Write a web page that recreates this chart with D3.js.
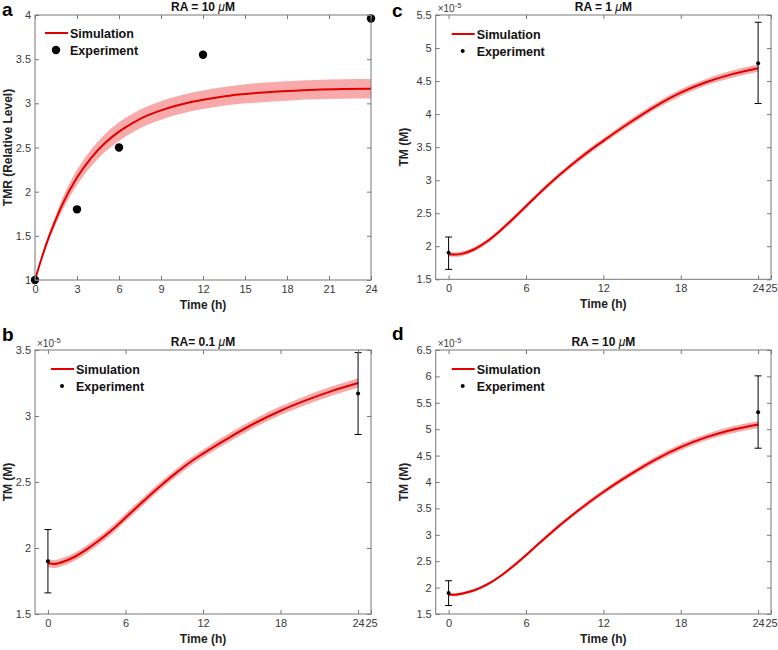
<!DOCTYPE html>
<html>
<head>
<meta charset="utf-8">
<script src="https://cdn.jsdelivr.net/npm/d3@7"></script>
<style>
  body { margin: 0; background: #fff; }
  svg { font-family: "Liberation Sans", Arial, Helvetica, sans-serif; }
</style>
</head>
<body>
<svg id="chart" width="778" height="650"></svg>
<script>
// ---------- Data ----------
// Panel a: TMR relative level, RA = 10 uM
const timeA = [0, 0.5, 1, 1.5, 2, 3, 4, 5, 6, 7, 8, 9, 10, 11, 12, 14, 16, 18, 20, 22, 24];
const simA  = [1, 1.26, 1.49, 1.69, 1.87, 2.16, 2.38, 2.55, 2.68, 2.78, 2.86, 2.92, 2.97, 3.01, 3.04, 3.09, 3.12, 3.14, 3.155, 3.162, 3.165];
const bandA = [0, 0.02, 0.04, 0.055, 0.07, 0.085, 0.095, 0.1, 0.105, 0.105, 0.105, 0.105, 0.105, 0.105, 0.105, 0.105, 0.11, 0.11, 0.11, 0.11, 0.11];
const expTimeA = [0, 3, 6, 12, 24];
const expA     = [1, 1.8, 2.5, 3.55, 3.96];
const xTicksA = [0, 3, 6, 9, 12, 15, 18, 21, 24];
const yTicksA = [1, 1.5, 2, 2.5, 3, 3.5, 4];

// Panels b, c, d: TM (M), values in units of 1e-5
const timeTM = [0, 0.5, 1, 2, 3, 4, 5, 6, 7, 8, 9, 10, 11, 12, 14, 16, 18, 20, 22, 24];
const simB  = [1.884, 1.878, 1.89, 1.93, 1.99, 2.06, 2.14, 2.23, 2.32, 2.41, 2.495, 2.575, 2.65, 2.715, 2.835, 2.945, 3.04, 3.12, 3.19, 3.25];
const bandB = [0.03, 0.03, 0.03, 0.03, 0.03, 0.03, 0.03, 0.03, 0.03, 0.03, 0.03, 0.03, 0.03, 0.03, 0.032, 0.032, 0.033, 0.034, 0.035, 0.036];
const simC  = [1.88, 1.875, 1.885, 1.955, 2.075, 2.235, 2.415, 2.605, 2.795, 2.975, 3.145, 3.305, 3.455, 3.595, 3.865, 4.115, 4.325, 4.485, 4.605, 4.695];
const bandC = [0.035, 0.035, 0.035, 0.035, 0.035, 0.035, 0.035, 0.035, 0.035, 0.035, 0.035, 0.04, 0.04, 0.04, 0.045, 0.045, 0.05, 0.05, 0.055, 0.055];
const simD  = [1.87, 1.865, 1.885, 1.95, 2.06, 2.215, 2.405, 2.615, 2.835, 3.05, 3.255, 3.45, 3.635, 3.81, 4.13, 4.42, 4.66, 4.85, 4.99, 5.09];
const bandD = [0.03, 0.03, 0.03, 0.03, 0.03, 0.03, 0.035, 0.035, 0.035, 0.04, 0.04, 0.04, 0.045, 0.045, 0.05, 0.055, 0.06, 0.06, 0.065, 0.065];
const expTimeTM = [0, 24];
const expB = [1.9, 3.17];  const errLoB = [1.66, 2.86]; const errHiB = [2.14, 3.48];
const expC = [1.9, 4.77];  const errLoC = [1.65, 4.16]; const errHiC = [2.14, 5.39];
const expD = [1.9, 5.32];  const errLoD = [1.66, 4.64]; const errHiD = [2.13, 6.01];
const xTicksTM = [0, 6, 12, 18, 24, 25];
const yTicksB = [1.5, 2, 2.5, 3, 3.5];
const yTicksC = [1.5, 2, 2.5, 3, 3.5, 4, 4.5, 5, 5.5];
const yTicksD = [1.5, 2, 2.5, 3, 3.5, 4, 4.5, 5, 5.5, 6, 6.5];

const titles = ["RA = 10 ", "RA= 0.1 ", "RA = 1 ", "RA = 10 "];
const letters = ["a", "b", "c", "d"];

// ---------- Layout ----------
const panels = [
  { letter: letters[0], title: titles[0], box: [35, 15, 371, 280], xDom: [0, 24], yDom: [1, 4],
    xTicks: xTicksA, yTicks: yTicksA, t: timeA, sim: simA, band: bandA,
    et: expTimeA, ev: expA, big: true, ylabel: "TMR (Relative Level)", exp: false,
    letterPos: [2, 16], ylabX: 12 },
  { letter: letters[1], title: titles[1], box: [35, 350, 371, 614], xDom: [-1, 25], yDom: [1.5, 3.5],
    xTicks: xTicksTM, yTicks: yTicksB, t: timeTM, sim: simB, band: bandB,
    et: expTimeTM, ev: expB, lo: errLoB, hi: errHiB, big: false, ylabel: "TM (M)", exp: true,
    letterPos: [2, 341], ylabX: 12 },
  { letter: letters[2], title: titles[2], box: [435.7, 15, 771, 279.3], xDom: [-1, 25], yDom: [1.5, 5.5],
    xTicks: xTicksTM, yTicks: yTicksC, t: timeTM, sim: simC, band: bandC,
    et: expTimeTM, ev: expC, lo: errLoC, hi: errHiC, big: false, ylabel: "TM (M)", exp: true,
    letterPos: [392, 17], ylabX: 408 },
  { letter: letters[3], title: titles[3], box: [435.7, 350, 771, 614], xDom: [-1, 25], yDom: [1.5, 6.5],
    xTicks: xTicksTM, yTicks: yTicksD, t: timeTM, sim: simD, band: bandD,
    et: expTimeTM, ev: expD, lo: errLoD, hi: errHiD, big: false, ylabel: "TM (M)", exp: true,
    letterPos: [392, 340], ylabX: 408 }
];

const svg = d3.select("#chart");
const axisColor = "#777";
const textColor = "#3a3a3a";

panels.forEach(p => {
  const [x0, y0, x1, y1] = p.box;
  const x = d3.scaleLinear().domain(p.xDom).range([x0, x1]);
  const y = d3.scaleLinear().domain(p.yDom).range([y1, y0]);
  const g = svg.append("g");

  // band
  const pts = p.t.map((t, i) => ({ t, v: p.sim[i], b: p.band[i] }));
  g.append("path").datum(pts)
    .attr("fill", "#f8a9a9")
    .attr("d", d3.area().x(d => x(d.t)).y0(d => y(d.v - d.b)).y1(d => y(d.v + d.b)).curve(d3.curveMonotoneX));
  // line
  g.append("path").datum(pts)
    .attr("fill", "none").attr("stroke", "#e00000").attr("stroke-width", 2)
    .attr("d", d3.line().x(d => x(d.t)).y(d => y(d.v)).curve(d3.curveMonotoneX));

  // error bars
  if (p.lo) {
    p.et.forEach((t, i) => {
      const cx = x(t);
      g.append("line").attr("x1", cx).attr("x2", cx).attr("y1", y(p.lo[i])).attr("y2", y(p.hi[i]))
        .attr("stroke", "#000").attr("stroke-width", 1);
      [p.lo[i], p.hi[i]].forEach(v => {
        g.append("line").attr("x1", cx - 3.5).attr("x2", cx + 3.5).attr("y1", y(v)).attr("y2", y(v))
          .attr("stroke", "#000").attr("stroke-width", 1);
      });
    });
  }
  // experiment points
  g.selectAll("circle.exp").data(p.et.map((t, i) => ({ t, v: p.ev[i] }))).enter()
    .append("circle").attr("cx", d => x(d.t)).attr("cy", d => y(d.v))
    .attr("r", p.big ? 4.2 : 2).attr("fill", "#000");

  // axes (MATLAB style box with inward ticks)
  const tl = 4;
  const fmt = d => String(d);
  const xa = g.append("g").attr("transform", `translate(0,${y1})`)
    .call(d3.axisBottom(x).tickValues(p.xTicks).tickFormat(fmt).tickSizeInner(-tl).tickSizeOuter(0).tickPadding(5));
  const ya = g.append("g").attr("transform", `translate(${x0},0)`)
    .call(d3.axisLeft(y).tickValues(p.yTicks).tickFormat(fmt).tickSizeInner(-tl).tickSizeOuter(0).tickPadding(4));
  const xt = g.append("g").attr("transform", `translate(0,${y0})`)
    .call(d3.axisTop(x).tickValues(p.xTicks).tickFormat("").tickSizeInner(-tl).tickSizeOuter(0));
  const yr = g.append("g").attr("transform", `translate(${x1},0)`)
    .call(d3.axisRight(y).tickValues(p.yTicks).tickFormat("").tickSizeInner(-tl).tickSizeOuter(0));
  [xa, ya, xt, yr].forEach(a => {
    a.select(".domain").remove();
    a.selectAll(".tick line").attr("stroke", axisColor);
    a.selectAll(".tick text").attr("fill", textColor).style("font-size", "11px")
      .style("font-family", '"Liberation Sans", Arial, sans-serif');
  });
  g.append("rect").attr("x", x0).attr("y", y0).attr("width", x1 - x0).attr("height", y1 - y0)
    .attr("fill", "none").attr("stroke", axisColor).attr("stroke-width", 1);

  // exponent label
  if (p.exp) {
    const e = g.append("text").attr("x", x0 + 2).attr("y", y0 - 3)
      .attr("fill", textColor).style("font-size", "10px");
    e.append("tspan").text("\u00d710");
    e.append("tspan").attr("dy", -4).style("font-size", "7.5px").text("-5");
  }

  // title
  const cxm = (x0 + x1) / 2;
  const tt = g.append("text").attr("x", cxm).attr("y", y0 - 4).attr("text-anchor", "middle")
    .style("font-size", "12px").style("font-weight", "bold").attr("fill", "#111");
  tt.append("tspan").text(p.title);
  tt.append("tspan").style("font-style", "italic").style("font-weight", "normal").text("\u03bc");
  tt.append("tspan").text("M");

  // x label
  g.append("text").attr("x", cxm).attr("y", y1 + 29).attr("text-anchor", "middle")
    .style("font-size", "12px").style("font-weight", "bold").attr("fill", "#222").text("Time (h)");
  // y label
  g.append("text").attr("transform", `translate(${p.ylabX},${(y0 + y1) / 2}) rotate(-90)`)
    .attr("text-anchor", "middle").style("font-size", "12px").style("font-weight", "bold")
    .attr("fill", "#222").text(p.ylabel);

  // panel letter
  g.append("text").attr("x", p.letterPos[0]).attr("y", p.letterPos[1])
    .style("font-size", "19px").style("font-weight", "bold").attr("fill", "#000").text(p.letter);

  // legend
  const lx = x0 + (p.big ? 10 : 16), ly = y0 + (p.big ? 18 : 19);
  g.append("line").attr("x1", lx).attr("x2", lx + 23).attr("y1", ly).attr("y2", ly)
    .attr("stroke", "#e00000").attr("stroke-width", 2);
  g.append("text").attr("x", lx + 25).attr("y", ly + 4.5).style("font-size", "12.5px")
    .style("font-weight", "bold").attr("fill", "#111").text("Simulation");
  g.append("circle").attr("cx", lx + 11).attr("cy", ly + 17).attr("r", p.big ? 4.2 : 2).attr("fill", "#000");
  g.append("text").attr("x", lx + 25).attr("y", ly + 21.5).style("font-size", "12.5px")
    .style("font-weight", "bold").attr("fill", "#111").text("Experiment");
});
</script>
</body>
</html>
